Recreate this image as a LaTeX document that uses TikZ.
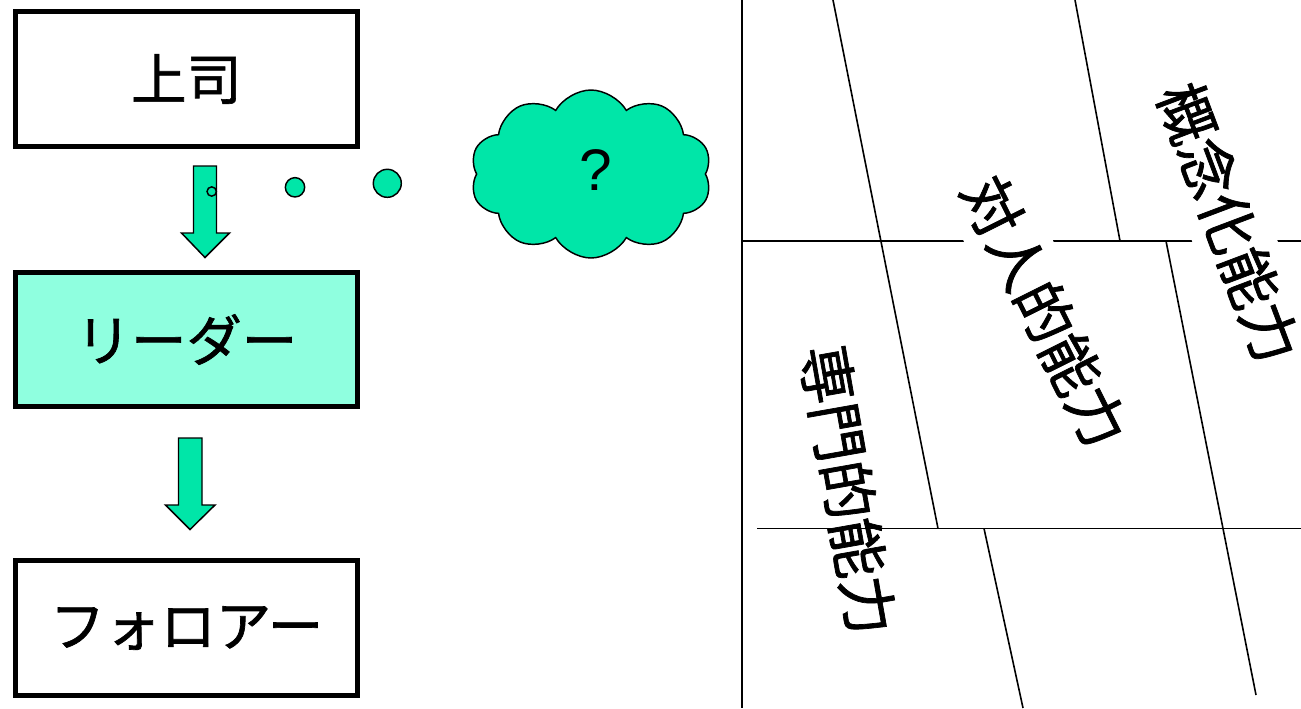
\documentclass[tikz,border=0pt]{standalone}
\usepackage{fontspec}
\newfontfamily\jp[FakeBold=1.2]{Noto Sans CJK JP}
\newfontfamily\lsans{Liberation Sans}
\usetikzlibrary{shapes.symbols}
\definecolor{bubblegreen}{RGB}{0,230,168}
\definecolor{lightaqua}{RGB}{143,255,223}
\tikzset{
  boxnode/.style={draw=black, line width=3.75pt, minimum width=257pt, minimum height=101pt,
    inner sep=0pt, font=\jp\fontsize{41.5}{48}\selectfont},
  blockarrow/.style={draw=black, fill=bubblegreen, line width=1.1pt, line join=miter},
  hairline/.style={draw=black, line width=1.2pt},
  puff/.style={circle, draw=black, fill=bubblegreen, line width=1.1pt, inner sep=0pt},
  skill/.style={font=\jp\fontsize{44}{48}\selectfont, inner xsep=2pt, inner ysep=8pt,
    text height=38pt, text depth=6pt}
}
\begin{document}
\begin{tikzpicture}[x=0.75pt,y=-0.75pt]
\useasboundingbox (0,0) rectangle (1301,708);
\fill[white] (0,0) rectangle (1301,708);

% left column
\node[boxnode, fill=white] (boss) at (186.5,79) {上司};
\node[boxnode, fill=lightaqua] (leader) at (186.5,339.5) {リーダー};
\node[boxnode, fill=white] (follower) at (186.5,628) {フォロアー};

% block arrows
\draw[blockarrow] (193.5,166) -- (216.5,166) -- (216.5,233) -- (229.5,233) -- (205,257.5)
  -- (181.5,233) -- (193.5,233) -- cycle;
\draw[blockarrow] (178.5,438) -- (202,438) -- (202,505) -- (215,505) -- (190,529.5)
  -- (165.5,505) -- (178.5,505) -- cycle;

% thought bubble
\node[puff, minimum size=7pt] (p1) at (211.7,191.5) {};
\node[puff, minimum size=14.5pt] (p2) at (295,187.3) {};
\node[puff, minimum size=21pt] (p3) at (387.3,183.3) {};
\node[cloud, cloud puffs=10, cloud puff arc=120, aspect=1.44, draw=black, fill=bubblegreen,
  line width=1.1pt, minimum width=181pt, minimum height=126pt, inner sep=0pt] (cloud) at (591,174) {};
\node[font=\lsans\fontsize{44}{48}\selectfont, inner sep=0pt] (q) at (596,170) {?};

% right diagram lines
\draw[hairline] (742,0) -- (742,708);
\draw[hairline] (742,241) -- (1301,241);
\draw[hairline] (757,528.5) -- (1301,528.5);
\draw[hairline] (833,0) -- (938,528.5);
\draw[hairline] (1075,0) -- (1120,241);
\draw[hairline] (1166,241) -- (1256,695);
\draw[hairline] (984,528.5) -- (1023,708);

% skill labels
\node[skill, fill=white, rotate=-63.4] (human) at (1044,312) {対人的能力};
\node[skill, fill=white, rotate=-69.3] (concept) at (1228,223) {概念化能力};
\node[skill, rotate=-80] (tech) at (847,490) {専門的能力};
\end{tikzpicture}
\end{document}
